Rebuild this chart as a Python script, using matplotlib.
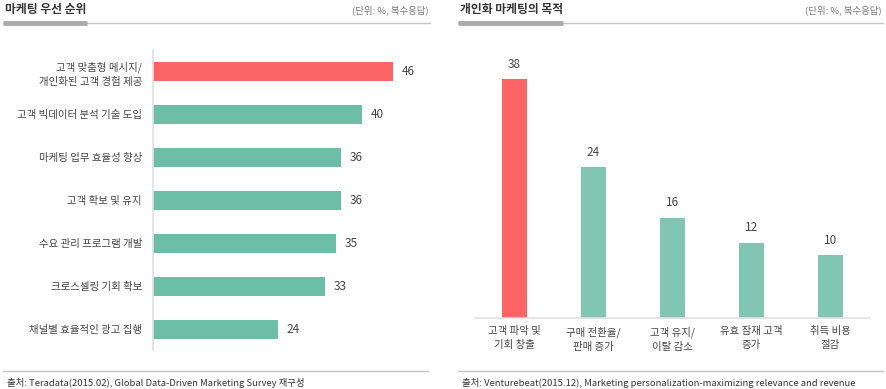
import matplotlib.pyplot as plt
from matplotlib.lines import Line2D
import numpy as np

plt.rcParams['font.family'] = ['Noto Sans CJK KR', 'DejaVu Sans']

# left chart: marketing priorities
left_labels = ['고객 맞춤형 메시지/\n개인화된 고객 경험 제공', '고객 빅데이터 분석 기술 도입', '마케팅 업무 효율성 향상',
               '고객 확보 및 유지', '수요 관리 프로그램 개발', '크로스셀링 기회 확보', '채널별 효율적인 광고 집행']
left_values = [46, 40, 36, 36, 35, 33, 24]

# right chart: purpose of personalized marketing
right_labels = ['고객 파악 및\n기회 창출', '구매 전환율/\n판매 증가', '고객 유지/\n이탈 감소', '유효 잠재 고객\n증가', '취득 비용\n절감']
right_values = [38, 24, 16, 12, 10]

RED = '#fd6466'
GREEN_L = '#6cbea6'
GREEN_R = '#80c6b3'
TXT = '#444444'

W, H = 886, 389
fig = plt.figure(figsize=(W / 100, H / 100), dpi=100)


def px(x0, y0, x1, y1):
    # pixel box -> figure fraction rect
    return [x0 / W, 1 - y1 / H, (x1 - x0) / W, (y1 - y0) / H]


def header(x0, x1, split, title, y=10):
    fig.text(x0 / W + 0.002, 1 - y / H, title, fontsize=8.5, fontweight='bold', color='#333333', va='center')
    fig.text(x1 / W - 0.002, 1 - y / H, '(단위: %, 복수응답)', fontsize=6.8, color='#777777', va='center', ha='right')
    fig.add_artist(Line2D([x0 / W, x1 / W], [1 - 23 / H] * 2, color='#c4c4c4', lw=1.0))
    fig.add_artist(Line2D([x0 / W, split / W], [1 - 23 / H] * 2, color='#ababab', lw=3.5, solid_capstyle='butt'))


def footer(x0, x1, txt):
    fig.add_artist(Line2D([x0 / W, x1 / W], [1 - 371 / H] * 2, color='#c4c4c4', lw=1.0))
    fig.text(x0 / W + 0.004, 1 - 383 / H, txt, fontsize=6.8, color='#333333', va='center')


# ---- left: horizontal bars
ax1 = fig.add_axes(px(153, 50, 430, 350))
y = np.arange(len(left_values))
colors = [RED] + [GREEN_L] * (len(left_values) - 1)
ax1.barh(y, left_values, height=0.44, color=colors)
ax1.set_xlim(0, 53)
ax1.set_ylim(6.48, -0.5)
ax1.set_yticks(y)
ax1.set_yticklabels(left_labels, fontsize=7.5, color=TXT, linespacing=1.4)
ax1.tick_params(axis='y', length=0, pad=8)
ax1.set_xticks([])
for s in ['top', 'right', 'bottom']:
    ax1.spines[s].set_visible(False)
ax1.spines['left'].set_color('#e0e0e0')
ax1.spines['left'].set_linewidth(1.2)
for yi, v in zip(y, left_values):
    ax1.annotate(str(v), (v, yi), xytext=(6, 0), textcoords='offset points',
                 va='center', ha='left', fontsize=8.5, color=TXT)

# ---- right: vertical bars
ax2 = fig.add_axes(px(475, 50, 870, 318))
x = np.arange(len(right_values))
colors = [RED] + [GREEN_R] * (len(right_values) - 1)
ax2.bar(x, right_values, width=0.32, color=colors)
ax2.set_xlim(-0.5, 4.5)
ax2.set_ylim(0, 42.7)
ax2.set_xticks(x)
ax2.set_xticklabels(right_labels, fontsize=7.5, color=TXT, linespacing=1.5, va='top')
ax2.tick_params(axis='x', length=0, pad=6)
ax2.set_yticks([])
for s in ['top', 'right', 'left']:
    ax2.spines[s].set_visible(False)
ax2.spines['bottom'].set_color('#e0e0e0')
ax2.spines['bottom'].set_linewidth(1.2)
for xi, v in zip(x, right_values):
    ax2.annotate(str(v), (xi, v), xytext=(0, 6), textcoords='offset points',
                 va='bottom', ha='center', fontsize=8.5, color=TXT)

header(3, 430, 87, '마케팅 우선 순위')
header(458, 883, 563, '개인화 마케팅의 목적')
footer(3, 428, '출처: Teradata(2015.02), Global Data-Driven Marketing Survey 재구성')
footer(458, 883, '출처: Venturebeat(2015.12), Marketing personalization-maximizing relevance and revenue')

fig.savefig('out.png', dpi=100)
